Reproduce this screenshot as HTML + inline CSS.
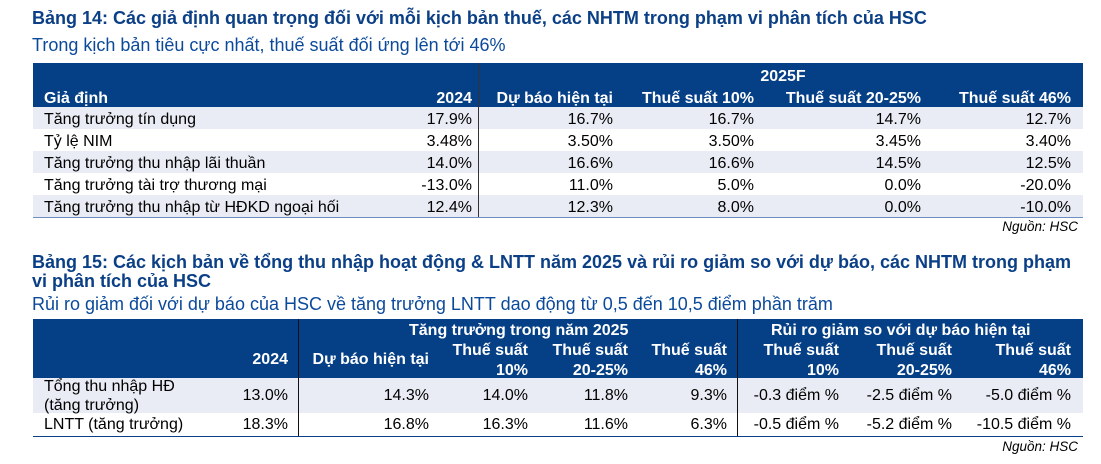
<!DOCTYPE html>
<html><head><meta charset="utf-8"><style>
body{margin:0;width:1101px;height:464px;background:#fff;font-family:"Liberation Sans",Arial,sans-serif;position:relative;overflow:hidden}
.a{position:absolute;white-space:nowrap}
.t{color:#0b3f86;font-weight:bold;font-size:18px;line-height:20px}
.s{color:#0b4a9a;font-size:18px;line-height:20px}
.hd{position:absolute;background:#053f85}
.sh{position:absolute;background:#e9ecf4}
.w{color:#fff;font-weight:bold;font-size:16px;line-height:20px}
.c{font-size:16px;color:#000;line-height:22px}
.r{text-align:right}
.src{font-style:italic;font-size:13.5px;color:#000}
</style></head><body>
<div class="a t" style="left:32px;top:8px">Bảng 14: Các giả định quan trọng đối với mỗi kịch bản thuế, các NHTM trong phạm vi phân tích của HSC</div>
<div class="a s" style="left:32px;top:35px">Trong kịch bản tiêu cực nhất, thuế suất đối ứng lên tới 46%</div>
<div class="hd" style="left:33px;top:63px;width:1050px;height:44px"></div>
<div class="sh" style="left:33px;top:107px;width:1050px;height:22px"></div>
<div class="sh" style="left:33px;top:151px;width:1050px;height:22px"></div>
<div class="sh" style="left:33px;top:195px;width:1050px;height:22px"></div>
<div class="a" style="left:33px;top:217px;width:1050px;height:1px;background:#6d8fc0"></div>
<div class="a" style="left:478px;top:63px;width:1px;height:154px;background:#333"></div>
<div class="a w" style="left:738px;top:67px;width:90px;text-align:center">2025F</div>
<div class="a w" style="left:44px;top:89px">Giả định</div>
<div class="a w r" style="right:629px;top:89px">2024</div>
<div class="a w r" style="right:488px;top:89px">Dự báo hiện tại</div>
<div class="a w r" style="right:347px;top:89px">Thuế suất 10%</div>
<div class="a w r" style="right:180px;top:89px">Thuế suất 20-25%</div>
<div class="a w r" style="right:30px;top:89px">Thuế suất 46%</div>
<div class="a c" style="left:44px;top:109px">Tăng trưởng tín dụng<br>Tỷ lệ NIM<br>Tăng trưởng thu nhập lãi thuần<br>Tăng trưởng tài trợ thương mại<br>Tăng trưởng thu nhập từ HĐKD ngoại hối</div>
<div class="a c r" style="right:629px;top:109px">17.9%<br>3.48%<br>14.0%<br>-13.0%<br>12.4%</div>
<div class="a c r" style="right:488px;top:109px">16.7%<br>3.50%<br>16.6%<br>11.0%<br>12.3%</div>
<div class="a c r" style="right:347px;top:109px">16.7%<br>3.50%<br>16.6%<br>5.0%<br>8.0%</div>
<div class="a c r" style="right:180px;top:109px">14.7%<br>3.45%<br>14.5%<br>0.0%<br>0.0%</div>
<div class="a c r" style="right:30px;top:109px">12.7%<br>3.40%<br>12.5%<br>-20.0%<br>-10.0%</div>
<div class="a src" style="right:23px;top:219px">Nguồn: HSC</div>

<div class="a t" style="left:32px;top:252px">Bảng 15: Các kịch bản về tổng thu nhập hoạt động &amp; LNTT năm 2025 và rủi ro giảm so với dự báo, các NHTM trong phạm</div>
<div class="a t" style="left:32px;top:271px">vi phân tích của HSC</div>
<div class="a s" style="left:32px;top:294px">Rủi ro giảm đối với dự báo của HSC về tăng trưởng LNTT dao động từ 0,5 đến 10,5 điểm phần trăm</div>
<div class="hd" style="left:33px;top:319px;width:1050px;height:59px"></div>
<div class="sh" style="left:33px;top:378px;width:1050px;height:35px"></div>
<div class="a" style="left:33px;top:436px;width:1050px;height:1px;background:#0b3f86"></div>
<div class="a" style="left:298px;top:319px;width:1px;height:117px;background:#111"></div>
<div class="a" style="left:737px;top:319px;width:1px;height:117px;background:#111"></div>
<div class="a w" style="left:409px;top:321px">Tăng trưởng trong năm 2025</div>
<div class="a w" style="left:771px;top:321px">Rủi ro giảm so với dự báo hiện tại</div>
<div class="a w r" style="right:813px;top:350px">2024</div>
<div class="a w r" style="right:672px;top:350px">Dự báo hiện tại</div>
<div class="a w r" style="right:573px;top:341px">Thuế suất<br>10%</div>
<div class="a w r" style="right:473px;top:341px">Thuế suất<br>20-25%</div>
<div class="a w r" style="right:374px;top:341px">Thuế suất<br>46%</div>
<div class="a w r" style="right:262px;top:341px">Thuế suất<br>10%</div>
<div class="a w r" style="right:149px;top:341px">Thuế suất<br>20-25%</div>
<div class="a w r" style="right:30px;top:341px">Thuế suất<br>46%</div>
<div class="a c" style="left:44px;top:377px;line-height:19px">Tổng thu nhập HĐ<br>(tăng trưởng)</div>
<div class="a c" style="left:44px;top:414px">LNTT (tăng trưởng)</div>
<div class="a c r" style="right:813px;top:385px">13.0%</div><div class="a c r" style="right:813px;top:414px">18.3%</div>
<div class="a c r" style="right:672px;top:385px">14.3%</div><div class="a c r" style="right:672px;top:414px">16.8%</div>
<div class="a c r" style="right:573px;top:385px">14.0%</div><div class="a c r" style="right:573px;top:414px">16.3%</div>
<div class="a c r" style="right:473px;top:385px">11.8%</div><div class="a c r" style="right:473px;top:414px">11.6%</div>
<div class="a c r" style="right:374px;top:385px">9.3%</div><div class="a c r" style="right:374px;top:414px">6.3%</div>
<div class="a c r" style="right:262px;top:385px">-0.3 điểm %</div><div class="a c r" style="right:262px;top:414px">-0.5 điểm %</div>
<div class="a c r" style="right:149px;top:385px">-2.5 điểm %</div><div class="a c r" style="right:149px;top:414px">-5.2 điểm %</div>
<div class="a c r" style="right:30px;top:385px">-5.0 điểm %</div><div class="a c r" style="right:30px;top:414px">-10.5 điểm %</div>
<div class="a src" style="right:23px;top:439px">Nguồn: HSC</div>
</body></html>
